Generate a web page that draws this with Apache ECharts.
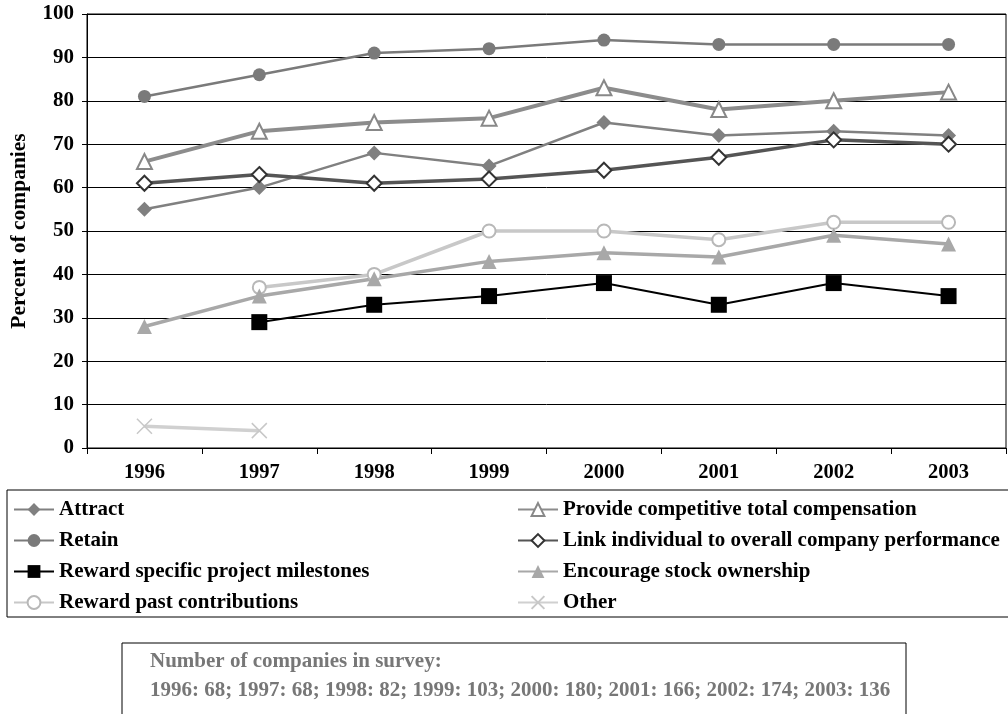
<!DOCTYPE html>
<html>
<head>
<meta charset="utf-8">
<script src="https://cdn.jsdelivr.net/npm/echarts@6/dist/echarts.min.js"></script>
<style>
  html, body { margin: 0; padding: 0; background: #fff; }
  #chart { width: 1008px; height: 714px; }
</style>
</head>
<body>
<div id="chart"></div>
<script>
// Survey years and the share of companies citing each purpose (percent)
var years = ['1996', '1997', '1998', '1999', '2000', '2001', '2002', '2003'];
var attract = [55, 60, 68, 65, 75, 72, 73, 72];
var retain = [81, 86, 91, 92, 94, 93, 93, 93];
var milestones = [null, 29, 33, 35, 38, 33, 38, 35];
var pastContributions = [null, 37, 40, 50, 50, 48, 52, 52];
var competitiveComp = [66, 73, 75, 76, 83, 78, 80, 82];
var linkPerformance = [61, 63, 61, 62, 64, 67, 71, 70];
var stockOwnership = [28, 35, 39, 43, 45, 44, 49, 47];
var other = [5, 4, null, null, null, null, null, null];
var surveyCounts = [68, 68, 82, 103, 180, 166, 174, 136];
var yTicks = { min: 0, max: 100, step: 10 };

var SERIF = '"Liberation Serif", "Times New Roman", serif';
var crossPath = 'path://M0,0L10,10M10,0L0,10';

var chart = echarts.init(document.getElementById('chart'));

function lineSeries(name, data, opts) {
  return {
    name: name,
    type: 'line',
    data: data,
    connectNulls: false,
    symbol: opts.symbol,
    symbolSize: opts.size,
    showAllSymbol: true,
    lineStyle: { color: opts.line, width: opts.width },
    itemStyle: opts.item,
    z: opts.z || 2,
    emphasis: { disabled: true },
    animation: false
  };
}

var countsText = years.map(function (y, i) { return y + ': ' + surveyCounts[i]; }).join('; ');

var legendText = { fontFamily: SERIF, fontWeight: 'bold', fontSize: 21, color: '#000' };

chart.setOption({
  backgroundColor: '#fff',
  animation: false,
  grid: {
    left: 85, right: 2, top: 14, height: 434,
    show: true, borderColor: '#000', borderWidth: 1, backgroundColor: 'transparent'
  },
  xAxis: {
    type: 'category',
    data: years,
    boundaryGap: true,
    axisLine: { lineStyle: { color: '#000', width: 1 } },
    axisTick: { show: true, inside: false, length: 6, lineStyle: { color: '#000' } },
    axisLabel: { fontFamily: SERIF, fontWeight: 'bold', fontSize: 20.5, color: '#000', margin: 14 },
    splitLine: { show: false }
  },
  yAxis: {
    type: 'value',
    min: yTicks.min, max: yTicks.max, interval: yTicks.step,
    name: 'Percent of companies',
    nameLocation: 'middle',
    nameRotate: 90,
    nameGap: 57,
    nameTextStyle: { fontFamily: SERIF, fontWeight: 'bold', fontSize: 21.5, color: '#000' },
    axisLine: { show: true, lineStyle: { color: '#000', width: 1 } },
    axisTick: { show: true, inside: false, length: 5, lineStyle: { color: '#000' } },
    axisLabel: { fontFamily: SERIF, fontWeight: 'bold', fontSize: 21, color: '#000', margin: 13 },
    splitLine: { show: true, lineStyle: { color: '#000', width: 1 } }
  },
  legend: [
    {
      orient: 'vertical', left: 13, top: 499, padding: 0,
      itemWidth: 40, itemHeight: 16, itemGap: 10,
      textStyle: legendText,
      selectedMode: false,
      data: ['Attract', 'Retain', 'Reward specific project milestones', 'Reward past contributions']
    },
    {
      orient: 'vertical', left: 517, top: 499, padding: 0,
      itemWidth: 40, itemHeight: 16, itemGap: 10,
      textStyle: legendText,
      selectedMode: false,
      data: ['Provide competitive total compensation', 'Link individual to overall company performance', 'Encourage stock ownership', 'Other']
    }
  ],
  graphic: [
    {
      type: 'rect', silent: true,
      shape: { x: 7, y: 490, width: 1010, height: 127 },
      style: { fill: 'none', stroke: '#000', lineWidth: 1 }
    },
    {
      type: 'rect', silent: true,
      shape: { x: 122, y: 643, width: 784, height: 100 },
      style: { fill: 'none', stroke: '#000', lineWidth: 1 }
    },
    {
      type: 'text', silent: true, left: 150, top: 651,
      style: { text: 'Number of companies in survey:', font: 'bold 21px ' + SERIF, fill: '#777' }
    },
    {
      type: 'text', silent: true, left: 150, top: 680,
      style: { text: countsText, font: 'bold 21px ' + SERIF, fill: '#777' }
    }
  ],
  series: [
    lineSeries('Attract', attract, {
      symbol: 'diamond', size: 15, line: '#808080', width: 2.5,
      item: { color: '#808080' }
    }),
    lineSeries('Retain', retain, {
      symbol: 'circle', size: 13, line: '#7a7a7a', width: 2.5,
      item: { color: '#7a7a7a' }
    }),
    lineSeries('Reward specific project milestones', milestones, {
      symbol: 'rect', size: 16, line: '#000', width: 2,
      item: { color: '#000' }, z: 4
    }),
    lineSeries('Reward past contributions', pastContributions, {
      symbol: 'emptyCircle', size: 13, line: '#c8c8c8', width: 3.5,
      item: { color: '#b8b8b8', borderWidth: 1.2 }
    }),
    lineSeries('Provide competitive total compensation', competitiveComp, {
      symbol: 'emptyTriangle', size: 15, line: '#8c8c8c', width: 4,
      item: { color: '#888', borderWidth: 1.5 }
    }),
    lineSeries('Link individual to overall company performance', linkPerformance, {
      symbol: 'emptyDiamond', size: 15, line: '#555', width: 3.5,
      item: { color: '#333', borderWidth: 1.2 }, z: 3
    }),
    lineSeries('Encourage stock ownership', stockOwnership, {
      symbol: 'triangle', size: 15, line: '#a8a8a8', width: 3.5,
      item: { color: '#a8a8a8' }
    }),
    lineSeries('Other', other, {
      symbol: crossPath, size: 15, line: '#d0d0d0', width: 3.5,
      item: { color: 'rgba(0,0,0,0)', borderColor: '#c8c8c8', borderWidth: 1.5 }
    })
  ]
});
</script>
</body>
</html>
